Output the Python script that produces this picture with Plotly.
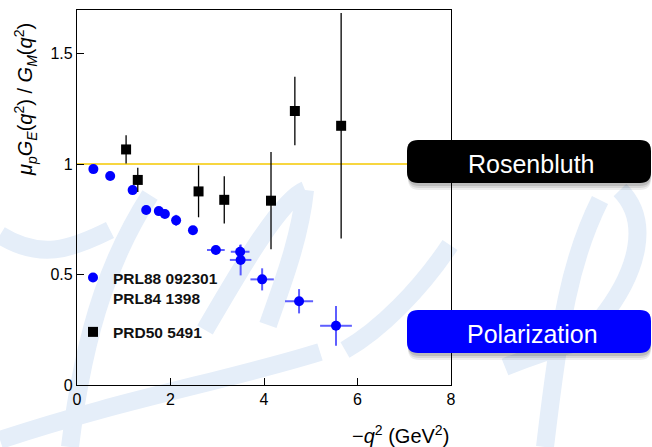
import plotly.graph_objects as go

# ---------------- data ----------------
pol_q2 = [0.35, 0.71, 1.19, 1.48, 1.75, 1.88, 2.12, 2.48, 2.97, 3.49, 3.50, 3.96, 4.75, 5.54]
pol_ratio = [0.977, 0.946, 0.882, 0.792, 0.787, 0.774, 0.745, 0.700, 0.611, 0.603, 0.566, 0.478, 0.379, 0.268]
pol_err_y = [0.0, 0.0, 0.0, 0.02, 0.0, 0.0, 0.025, 0.0, 0.02, 0.03, 0.07, 0.05, 0.055, 0.09]
pol_err_x = [0.0, 0.0, 0.0, 0.0, 0.0, 0.0, 0.0, 0.0, 0.19, 0.20, 0.23, 0.25, 0.30, 0.34]

ros_q2 = [1.05, 1.30, 2.60, 3.15, 4.15, 4.66, 5.65]
ros_ratio = [1.066, 0.928, 0.876, 0.838, 0.834, 1.240, 1.173]
ros_err = [0.064, 0.055, 0.117, 0.107, 0.22, 0.155, 0.51]

ref_level = 1.0
x_ticks = [0, 2, 4, 6, 8]
y_ticks = [0, 0.5, 1, 1.5]
y_ticklabels = ["0", "0.5", "1", "1.5"]
pol_name = "PRL88 092301<br>PRL84 1398"
ros_name = "PRD50 5491"
box_labels = ["Rosenbluth", "Polarization"]

# ---------------- layout geometry ----------------
W, H = 652, 447
L, R, T, B = 77, 451, 10, 385


def px(x):
    return (x - L) / (R - L)


def py(y):
    return (B - y) / (B - T)


def rrect(x0, y0, x1, y1, r=11):
    rx = r / (R - L)
    ry = r / (B - T)
    X0, X1 = px(x0), px(x1)
    Y0, Y1 = py(y1), py(y0)
    return (f"M{X0+rx},{Y1} L{X1-rx},{Y1} Q{X1},{Y1} {X1},{Y1-ry} "
            f"L{X1},{Y0+ry} Q{X1},{Y0} {X1-rx},{Y0} L{X0+rx},{Y0} "
            f"Q{X0},{Y0} {X0},{Y0+ry} L{X0},{Y1-ry} Q{X0},{Y1} {X0+rx},{Y1} Z")


def stroke(pts):
    s = f"M{px(pts[0][0])},{py(pts[0][1])}"
    rest = pts[1:]
    for i in range(0, len(rest) - 2, 3):
        a, b, c = rest[i], rest[i + 1], rest[i + 2]
        s += f" C{px(a[0])},{py(a[1])} {px(b[0])},{py(b[1])} {px(c[0])},{py(c[1])}"
    return s


FONT = "Liberation Sans, Arial, sans-serif"

fig = go.Figure()

fig.add_trace(go.Scatter(
    x=pol_q2, y=pol_ratio, mode="markers", name=pol_name,
    legendgroup="a",
    marker=dict(symbol="circle", size=10, color="#0000ff"),
    error_y=dict(type="data", array=pol_err_y, color="rgba(40,40,255,0.75)", thickness=2, width=0),
    error_x=dict(type="data", array=pol_err_x, color="rgba(40,40,255,0.75)", thickness=2, width=0),
))
fig.add_trace(go.Scatter(
    x=ros_q2, y=ros_ratio, mode="markers", name=ros_name,
    legendgroup="b",
    marker=dict(symbol="square", size=10, color="#000000"),
    error_y=dict(type="data", array=ros_err, color="#000000", thickness=1.3, width=0),
))

fig.add_hline(y=ref_level, line=dict(color="#f5c800", width=1.3), layer="below")

shapes = []
# faint watermark strokes
wm = dict(color="rgb(229,238,249)", width=18)
strokes = [
    [(35, 190), (20, 260), (55, 330), (35, 447)],
    [(150, 195), (115, 250), (85, 320), (70, 447)],
    [(0, 235), (40, 260), (70, 250), (110, 230)],
    [(205, 330), (240, 270), (280, 200), (305, 190)],
    [(305, 190), (300, 240), (280, 290), (268, 325)],
    [(0, 440), (120, 400), (230, 380), (320, 352)],
    [(450, 245), (420, 290), (380, 330), (345, 350)],
    [(600, 200), (570, 260), (560, 320), (545, 447)],
    [(620, 190), (650, 220), (640, 270), (600, 320)],
    [(505, 367), (560, 345), (600, 335), (650, 330)],
]
for s in strokes:
    shapes.append(dict(type="path", xref="paper", yref="paper", path=stroke(s),
                       line=wm, layer="below"))

boxes = [(407, 140, 651, 183, "#000000"), (407, 310, 651, 353, "#0000ff")]
for (x0, y0, x1, y1, col) in boxes:
    for k, a in [(7, 0.07), (5, 0.09), (3, 0.12)]:
        shapes.append(dict(type="path", xref="paper", yref="paper",
                           path=rrect(x0 + 1, y0 + k, x1, y1 + k),
                           fillcolor=f"rgba(0,0,0,{a})", line=dict(width=0), layer="above"))
    shapes.append(dict(type="path", xref="paper", yref="paper",
                       path=rrect(x0, y0, x1, y1),
                       fillcolor=col, line=dict(width=0), layer="above"))

annotations = [
    dict(text=box_labels[0], xref="paper", yref="paper", x=px(531), y=py(164),
         xanchor="center", yanchor="middle", showarrow=False,
         font=dict(family=FONT, size=25, color="white")),
    dict(text=box_labels[1], xref="paper", yref="paper", x=px(532), y=py(334),
         xanchor="center", yanchor="middle", showarrow=False,
         font=dict(family=FONT, size=25, color="white")),
    dict(text="<i>μ<sub>p</sub>G<sub>E</sub></i>(<i>q</i><sup>2</sup>) / <i>G<sub>M</sub></i>(<i>q</i><sup>2</sup>)",
         xref="paper", yref="paper", x=px(25), y=py(100), textangle=-90,
         xanchor="center", yanchor="middle", showarrow=False,
         font=dict(family=FONT, size=20, color="black")),
    dict(text="−<i>q</i><sup>2</sup> (GeV<sup>2</sup>)",
         xref="paper", yref="paper", x=px(451), y=py(434),
         xanchor="right", yanchor="middle", showarrow=False,
         font=dict(family=FONT, size=20, color="black")),
]

axis_common = dict(showline=True, linecolor="black", linewidth=1.3, mirror=True,
                   ticks="inside", ticklen=7, tickwidth=1, tickcolor="black",
                   showgrid=False, zeroline=False,
                   tickfont=dict(family=FONT, size=16, color="black"))

fig.update_layout(
    width=W, height=H,
    margin=dict(l=L, r=W - R, t=T, b=H - B, pad=0),
    paper_bgcolor="white", plot_bgcolor="rgba(0,0,0,0)",
    showlegend=True,
    legend=dict(x=px(73), y=py(261), xanchor="left", yanchor="top",
                bgcolor="rgba(0,0,0,0)", borderwidth=0, valign="top",
                traceorder="grouped", tracegroupgap=11,
                font=dict(family=FONT, size=15.5, color="#111111", weight="bold")),
    xaxis=dict(range=[0, 8], tickvals=x_ticks, **axis_common),
    yaxis=dict(range=[0, 1.697], tickvals=y_ticks, ticktext=y_ticklabels, **axis_common),
    shapes=shapes,
    annotations=annotations,
)

fig.write_html("out.html", config={"displayModeBar": False},
               post_script="document.body.style.margin='0';document.body.style.padding='0';")
